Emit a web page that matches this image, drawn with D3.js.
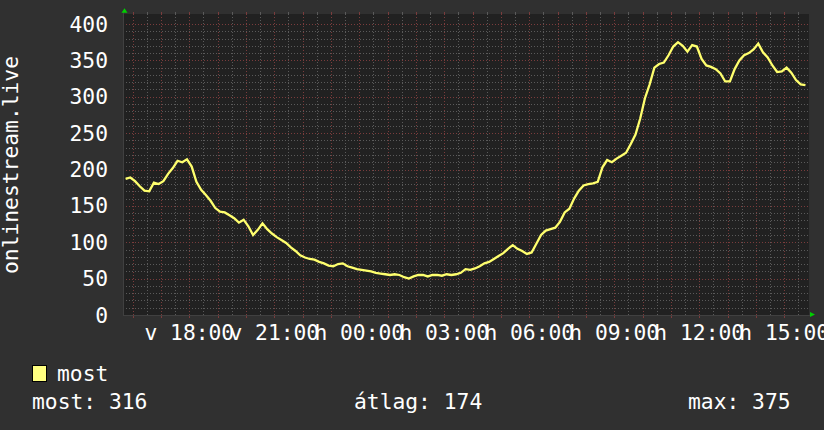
<!DOCTYPE html>
<html>
<head>
<meta charset="utf-8">
<script src="https://cdn.jsdelivr.net/npm/d3@7"></script>
<style>
html,body{margin:0;padding:0;background:#303030;}
svg{display:block;}
text{font-family:"DejaVu Sans Mono",monospace;fill:#ffffff;}
.grid line{shape-rendering:crispEdges;}
</style>
</head>
<body>
<svg id="chart" width="824" height="430"></svg>
<script>
// ---- data ----
const seriesName = "most";
const yTitle = "onlinestream.live";
const startTime = "2024-01-07T15:45:00"; // Sunday (vasárnap)
const stepMinutes = 10;
const users = [
  187,189,184,177,171,170,182,180,184,194,
  202,212,210,214,204,183,172,165,157,147,
  142,141,137,133,127,131,122,110,117,126,
  118,112,107,103,99,93,88,82,79,77,
  76,73,71,68,67,70,71,67,65,63,
  62,61,60,58,57,56,55,56,55,52,
  50,53,55,55,53,55,55,54,56,55,
  56,58,63,62,64,67,71,73,77,81,
  85,91,96,91,88,84,86,98,110,116,
  118,120,128,141,146,160,171,178,180,181,
  183,203,213,210,215,219,223,235,248,270,
  298,317,340,345,347,357,369,375,370,362,
  371,369,352,343,341,338,332,321,321,338,
  350,357,360,365,373,361,354,343,334,335,
  340,333,323,317,316
];
const yTicks = [0,50,100,150,200,250,300,350,400];
const dayAbbr = ["v","h","k","sze","cs","p","szo"];
const legendStats = [
  {label:"most", value:316},
  {label:"átlag", value:174},
  {label:"max", value:375}
];

// ---- layout ----
const svg = d3.select("#chart");
const W = 824, H = 430;
const plot = {left:123, top:14, right:809, bottom:316};
const parseT = d3.timeParse("%Y-%m-%dT%H:%M:%S");
const t0 = parseT(startTime);
const data = users.map((v,i)=>({t:d3.timeMinute.offset(t0, i*stepMinutes), v}));

const domStart = d3.timeSecond.offset(t0, -330);
const domEnd = d3.timeSecond.offset(t0, (24*60+7)*60 + 30);
const x = d3.scaleTime().domain([domStart, domEnd]).range([plot.left, plot.right]);
const y = d3.scaleLinear().domain([0,400]).range([315,24]);

svg.append("rect").attr("width",W).attr("height",H).attr("fill","#303030");
svg.append("rect").attr("x",plot.left).attr("y",plot.top)
  .attr("width",plot.right-plot.left).attr("height",plot.bottom-plot.top)
  .attr("fill","#212121");

const minorCol = "#5a5a5a", majorCol = "#7a3c3c";
const g = svg.append("g").attr("class","grid");
const px = v => Math.round(v)+0.5;

// horizontal grid
const minorY = d3.range(10,401,10).filter(v=>v%50!==0);
g.selectAll(".hmin").data(minorY).join("line")
  .attr("x1",plot.left).attr("x2",plot.right)
  .attr("y1",d=>px(y(d))).attr("y2",d=>px(y(d)))
  .attr("stroke",minorCol).attr("stroke-dasharray","1,2");
g.selectAll(".hmaj").data(yTicks.filter(v=>v>0)).join("line")
  .attr("x1",plot.left).attr("x2",plot.right)
  .attr("y1",d=>px(y(d))).attr("y2",d=>px(y(d)))
  .attr("stroke",majorCol).attr("stroke-dasharray","1,2");

// vertical grid
const halfHours = d3.timeMinute.every(30).range(domStart, domEnd);
const minorX = halfHours.filter(d=>d.getMinutes()===30);
const majorX = d3.timeHour.range(domStart, domEnd);
g.selectAll(".vmin").data(minorX).join("line")
  .attr("x1",d=>px(x(d))).attr("x2",d=>px(x(d)))
  .attr("y1",plot.top).attr("y2",plot.bottom)
  .attr("stroke",minorCol).attr("stroke-dasharray","1,2");
g.selectAll(".vmaj").data(majorX).join("line")
  .attr("x1",d=>px(x(d))).attr("x2",d=>px(x(d)))
  .attr("y1",plot.top).attr("y2",plot.bottom)
  .attr("stroke",majorCol).attr("stroke-dasharray","1,2");
// small ticks outside
g.selectAll(".vtickT").data(majorX).join("line")
  .attr("x1",d=>px(x(d))).attr("x2",d=>px(x(d)))
  .attr("y1",plot.top-2).attr("y2",plot.top+1).attr("stroke",majorCol);
g.selectAll(".vtickB").data(majorX).join("line")
  .attr("x1",d=>px(x(d))).attr("x2",d=>px(x(d)))
  .attr("y1",plot.bottom-1).attr("y2",plot.bottom+2).attr("stroke",majorCol);
g.selectAll(".vtickT2").data(minorX).join("line")
  .attr("x1",d=>px(x(d))).attr("x2",d=>px(x(d)))
  .attr("y1",plot.top-2).attr("y2",plot.top+1).attr("stroke",minorCol);

// axes lines
g.append("line").attr("x1",plot.left+0.5).attr("x2",plot.left+0.5)
  .attr("y1",plot.top-2).attr("y2",plot.bottom).attr("stroke","#404040");
g.append("line").attr("x1",plot.left).attr("x2",plot.right+2)
  .attr("y1",315.5).attr("y2",315.5).attr("stroke","#404040");

// arrows
svg.append("path").attr("d",`M${plot.left-1.5},12.7 L${plot.left+1.5},8.3 L${plot.left+4.5},12.7 Z`).attr("fill","#00d000");
svg.append("path").attr("d",`M810,312 L815,314.5 L810,317 Z`).attr("fill","#00d000");

// y tick labels
svg.selectAll(".ylab").data(yTicks).join("text")
  .attr("x",108).attr("y",d=>y(d)+7.6)
  .attr("text-anchor","end").attr("font-size",21.3)
  .text(d=>d);

// x tick labels
const xTicks = d3.timeHour.every(3).range(domStart, domEnd);
svg.selectAll(".xlab").data(xTicks).join("text")
  .attr("x",d=>x(d)).attr("y",340)
  .attr("text-anchor","middle").attr("font-size",21.3)
  .text(d=>dayAbbr[d.getDay()]+" "+d3.timeFormat("%H:%M")(d));

// y title
svg.append("text").attr("transform","translate(18,165) rotate(-90)")
  .attr("text-anchor","middle").attr("font-size",21.3).text(yTitle);

// line
const line = d3.line().x(d=>x(d.t)).y(d=>y(d.v)).curve(d3.curveLinear);
svg.append("path").datum(data).attr("d",line)
  .attr("fill","none").attr("stroke","#ffff6e").attr("stroke-width",2.3)
  .attr("stroke-linejoin","miter");

// legend
svg.append("rect").attr("x",32.5).attr("y",365.5).attr("width",14).attr("height",16)
  .attr("fill","#ffff80").attr("stroke","#000");
svg.append("text").attr("x",57).attr("y",381).attr("font-size",21.3).text(seriesName);
const statX = [32, 354, 688];
svg.selectAll(".stat").data(legendStats).join("text")
  .attr("x",(d,i)=>statX[i]).attr("y",409).attr("font-size",21.3)
  .text(d=>d.label+": "+d.value);
</script>
</body>
</html>
